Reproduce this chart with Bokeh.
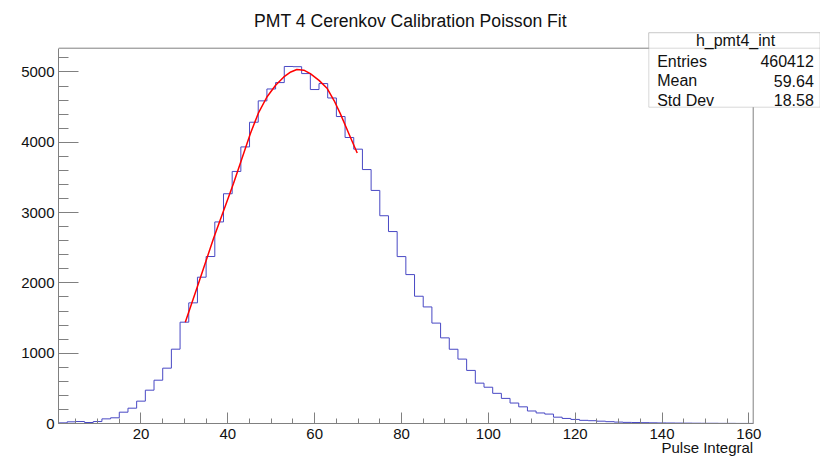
from bokeh.plotting import figure
from bokeh.models import Label, BoxAnnotation, SingleIntervalTicker, Range1d, Title
from bokeh.embed import file_html
from bokeh.resources import INLINE

# ---- data ----
bin_low = 1
bin_width = 2
counts = [9, 24, 28, 14, 28, 66, 81, 161, 218, 318,
          474, 616, 787, 1057, 1441, 1716, 2081, 2375, 2867, 3268,
          3585, 3934, 4285, 4589, 4758, 4849, 5078, 5075, 4977, 4750,
          4835, 4630, 4366, 4068, 3902, 3612, 3315, 2955, 2730, 2374,
          2118, 1810, 1658, 1428, 1218, 1056, 916, 755, 574, 516,
          429, 357, 291, 237, 178, 150, 134, 90, 72, 58,
          45, 40, 33, 26, 20, 16, 14, 12, 10, 8,
          7, 6, 5, 4, 3, 3, 2, 2, 1, 1]
fit_x = [30.2, 33.0, 36.7, 41.3, 45.2, 47.0, 49.0, 51.0, 52.9, 54.5,
         55.9, 57.5, 59.0, 61.0, 62.9, 64.5, 65.9, 68.2, 69.8]
fit_y = [1440, 1950, 2630, 3413, 4124, 4410, 4644, 4810, 4929, 5000,
         5035, 5025, 4977, 4880, 4764, 4590, 4408, 4075, 3848]
title_text = "PMT 4 Cerenkov Calibration Poisson Fit"
x_title = "Pulse Integral"
stat_name = "h_pmt4_int"
stat_labels = ["Entries", "Mean", "Std Dev"]
stat_values = ["460412", "59.64", "18.58"]
x_min, x_max = 1, 161
y_min, y_max = 0, 5338

# ---- layout (pixels) ----
W, H = 820, 456
FL, FB = 58, 423          # frame left / bottom in canvas pixels
axis_right_px, axis_top_px = 752.7, 47.7   # where the visible box ends
x_scale = (axis_right_px - FL) / (x_max - x_min)
y_scale = (FB - axis_top_px) / (y_max - y_min)
x_end = x_min + (W - FL) / x_scale
y_end = y_min + FB / y_scale

# ---- build step outline from bins ----
hx, hy = [bin_low], [0]
for i, c in enumerate(counts):
    lo = bin_low + i * bin_width
    hi = lo + bin_width
    hx += [lo, hi]
    hy += [c, c]
hx.append(bin_low + len(counts) * bin_width)
hy.append(0)

FONT = "Liberation Sans"
GRAY = "#808080"
TXT = "#111111"

p = figure(width=W, height=H, title=None,
           x_range=Range1d(x_min, x_end), y_range=Range1d(y_min, y_end),
           output_backend="svg", toolbar_location=None,
           min_border_left=FL, min_border_right=0,
           min_border_top=0, min_border_bottom=H - FB)
p.background_fill_color = "white"
p.border_fill_color = "white"
p.outline_line_color = None
p.xgrid.visible = False
p.ygrid.visible = False

# frame top / right border
p.segment(x0=[x_min, x_max], y0=[y_max, y_min], x1=[x_max, x_max], y1=[y_max, y_max],
          line_color=GRAY, line_width=1)

p.line(hx, hy, line_color="#4848c4", line_width=1)
p.line(fit_x, fit_y, line_color="#ff0000", line_width=1.5)

xa = p.xaxis[0]
xa.bounds = (x_min, x_max)
xa.ticker = SingleIntervalTicker(interval=20, num_minor_ticks=4)
xa.major_tick_in = 11
xa.major_tick_out = 0
xa.minor_tick_in = 5
xa.minor_tick_out = 0
xa.axis_line_color = GRAY
xa.major_tick_line_color = GRAY
xa.minor_tick_line_color = GRAY
xa.major_label_text_font = FONT
xa.major_label_text_font_size = "15px"
xa.major_label_text_color = TXT
xa.major_label_standoff = 5

ya = p.yaxis[0]
ya.bounds = (y_min, y_max)
ya.ticker = SingleIntervalTicker(interval=1000, num_minor_ticks=5)
ya.major_tick_in = 20
ya.major_tick_out = 0
ya.minor_tick_in = 10
ya.minor_tick_out = 0
ya.axis_line_color = GRAY
ya.major_tick_line_color = GRAY
ya.minor_tick_line_color = GRAY
ya.major_label_text_font = FONT
ya.major_label_text_font_size = "15px"
ya.major_label_text_color = TXT
ya.major_label_standoff = 4

# x axis title, right aligned under the axis end
p.add_layout(Title(text=x_title, align="right", offset=W - axis_right_px,
                   vertical_align="top",
                   text_font=FONT, text_font_size="15px", text_font_style="normal",
                   text_color=TXT, standoff=-6), "below")

# main title (inside the extended frame)
p.add_layout(Label(x=410 - FL, y=FB - 20, x_units="screen", y_units="screen",
                   text=title_text, text_font=FONT, text_font_size="17.6px",
                   text_align="center", text_baseline="middle", text_color=TXT))

# stats box
box_l, box_r, box_t, box_b, box_sep = 648.3 - FL, 819.5 - FL, FB - 32.3, FB - 106.7, FB - axis_top_px
p.add_layout(BoxAnnotation(left=box_l, right=box_r, top=box_t, bottom=box_b,
                           left_units="screen", right_units="screen",
                           top_units="screen", bottom_units="screen",
                           fill_color="white", fill_alpha=1.0,
                           line_color=GRAY, line_width=1))
p.add_layout(BoxAnnotation(left=box_l, right=box_r, top=box_t, bottom=box_sep,
                           left_units="screen", right_units="screen",
                           top_units="screen", bottom_units="screen",
                           fill_color="white", fill_alpha=1.0,
                           line_color=GRAY, line_width=1))
p.add_layout(Label(x=735 - FL, y=FB - 39.8, x_units="screen", y_units="screen",
                   text=stat_name, text_font=FONT, text_font_size="16px",
                   text_align="center", text_baseline="middle", text_color=TXT))
row_y = [60.5, 80, 99.5]
for lab, val, yy in zip(stat_labels, stat_values, row_y):
    p.add_layout(Label(x=656.7 - FL, y=FB - yy, x_units="screen", y_units="screen",
                       text=lab, text_font=FONT, text_font_size="16px",
                       text_align="left", text_baseline="middle", text_color=TXT))
    p.add_layout(Label(x=813.3 - FL, y=FB - yy, x_units="screen", y_units="screen",
                       text=val, text_font=FONT, text_font_size="16px",
                       text_align="right", text_baseline="middle", text_color=TXT))

open("out.html", "w").write(file_html(p, INLINE))
